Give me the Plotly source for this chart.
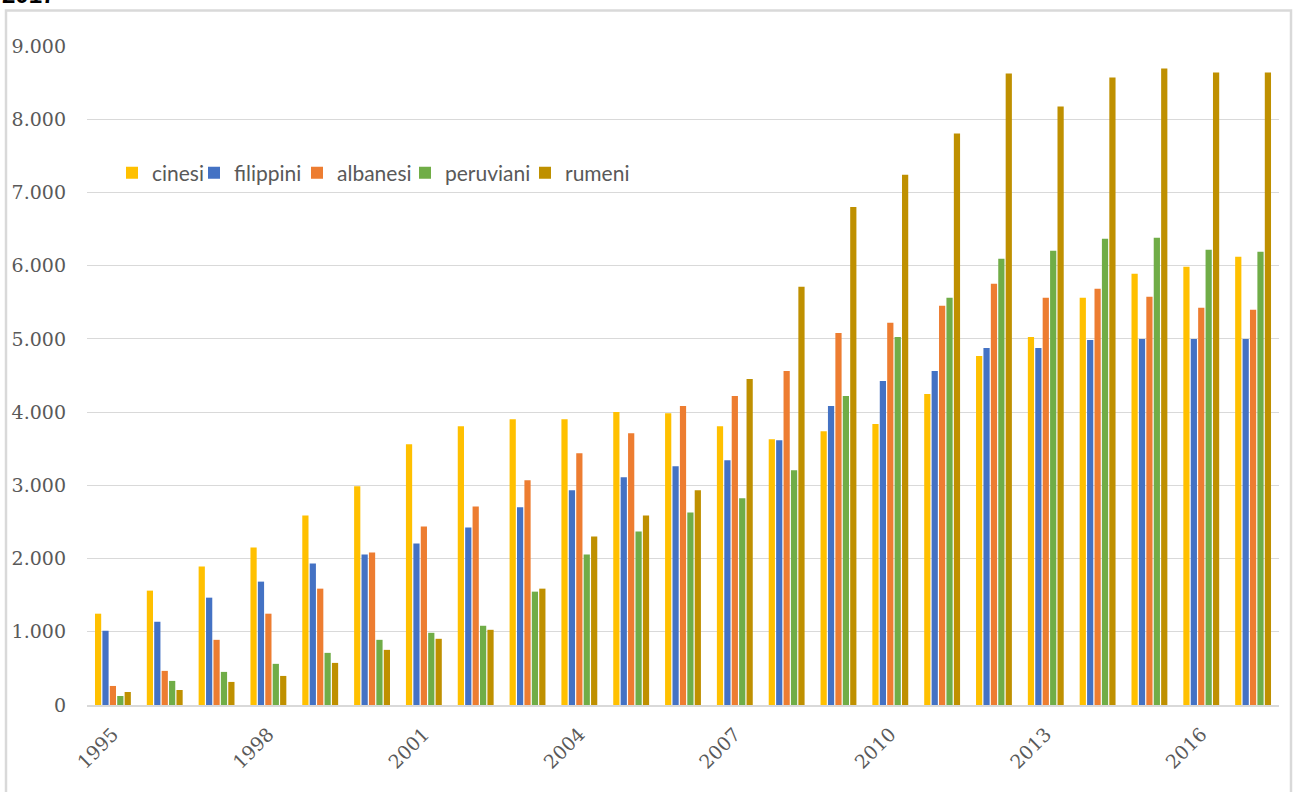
import plotly.graph_objects as go

years = list(range(1995, 2018))
cinesi = [1247, 1562, 1890, 2151, 2589, 2986, 3562, 3808, 3904, 3904, 4000, 3986,
          3808, 3630, 3740, 3836, 4248, 4767, 5027, 5561, 5889, 5985, 6122]
filippini = [1014, 1137, 1466, 1685, 1932, 2055, 2205, 2425, 2699, 2932, 3110, 3260,
             3342, 3616, 4082, 4425, 4562, 4877, 4877, 4986, 5000, 5000, 5000]
albanesi = [260, 466, 890, 1247, 1589, 2082, 2438, 2712, 3068, 3438, 3712, 4082,
            4219, 4562, 5082, 5219, 5451, 5752, 5561, 5684, 5575, 5424, 5397]
peruviani = [123, 329, 452, 562, 712, 890, 986, 1082, 1548, 2055, 2370, 2630,
             2822, 3205, 4219, 5027, 5561, 6094, 6204, 6368, 6382, 6218, 6190]
rumeni = [178, 205, 315, 397, 575, 753, 904, 1027, 1589, 2301, 2589, 2932,
          4452, 5712, 6801, 7243, 7804, 8625, 8174, 8570, 8694, 8639, 8639]

series = [("cinesi", cinesi, "#FFC000"),
          ("filippini", filippini, "#4472C4"),
          ("albanesi", albanesi, "#ED7D31"),
          ("peruviani", peruviani, "#70AD47"),
          ("rumeni", rumeni, "#BF9000")]

tick_years = [1995, 1998, 2001, 2004, 2007, 2010, 2013, 2016]

W, H = 1294, 792
L, R, T, B = 87, 15, 46, 87
pw, ph = W - L - R, H - T - B

def px_x(p):
    return (p - L) / pw

def px_y(p):
    return (H - B - p) / ph

legend_square_x = [128, 210, 313, 421, 541]
legend_font = dict(family="Lato", size=21, color="#595959")

fig = go.Figure()
legend_layout = {}
for i, (name, vals, col) in enumerate(series):
    lname = "legend" if i == 0 else f"legend{i + 1}"
    fig.add_trace(go.Bar(x=years, y=vals, name=name, marker_color=col,
                         marker_line_width=0, legend=lname))
    legend_layout[lname] = dict(x=px_x(legend_square_x[i] - 16), y=px_y(173),
                                xanchor="left", yanchor="middle",
                                font=legend_font, bgcolor="rgba(0,0,0,0)",
                                itemwidth=30, orientation="h")

fig.update_layout(
    width=W, height=H,
    margin=dict(l=L, r=R, t=T, b=B),
    paper_bgcolor="white", plot_bgcolor="white",
    barmode="group", bargap=0.285, bargroupgap=0.16,
    separators=",.",
    showlegend=True,
    xaxis=dict(range=[1994.5, 2017.5], tickmode="array", tickvals=tick_years,
               ticktext=[str(y) for y in tick_years], tickangle=-45,
               tickfont=dict(family="DejaVu Serif", size=19, color="#595959"),
               showgrid=False, showline=True, linecolor="#D9D9D9", linewidth=1.5,
               ticks="", zeroline=False, ticklabelstandoff=9),
    yaxis=dict(range=[0, 9000], dtick=1000, tickformat=",d",
               tickfont=dict(family="DejaVu Serif", size=19, color="#595959"),
               showgrid=True, gridcolor="#D9D9D9", gridwidth=1,
               zeroline=False, showline=False, ticks="", ticklabelstandoff=20),
    shapes=[dict(type="rect", xref="paper", yref="paper",
                 x0=px_x(6), x1=px_x(1291), y0=px_y(810), y1=px_y(10.5),
                 line=dict(color="#D9D9D9", width=2.5), fillcolor="rgba(0,0,0,0)",
                 layer="below")],
    annotations=[dict(text="<b>2017</b>", xref="paper", yref="paper",
                      x=px_x(0), y=px_y(10), xanchor="left", yanchor="bottom",
                      showarrow=False,
                      font=dict(family="Liberation Sans", size=24, color="#000000"))],
)
fig.update_layout(**legend_layout)

fig.write_html("out.html", config={"displayModeBar": False},
               post_script="document.body.style.margin='0';")
